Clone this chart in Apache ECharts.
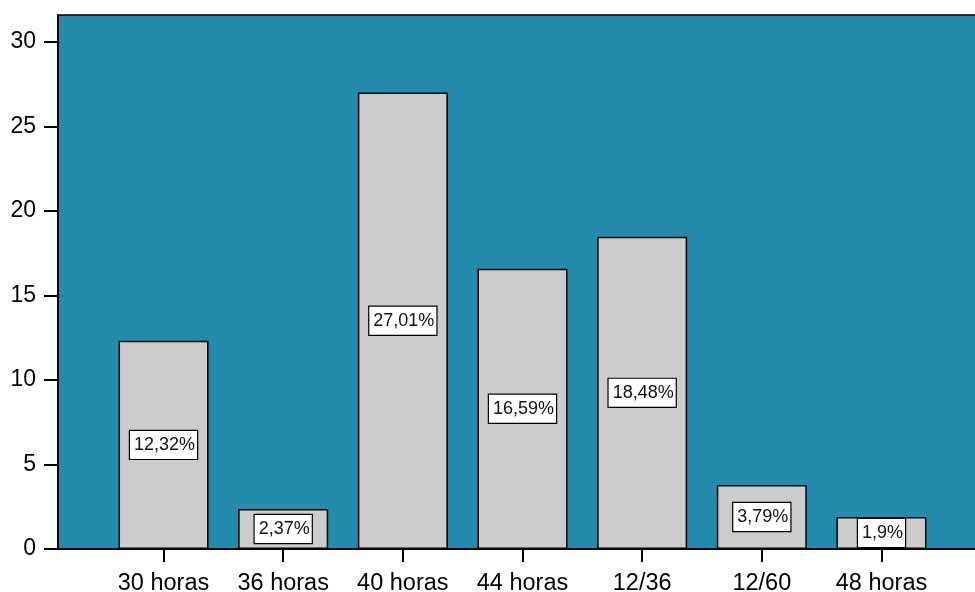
<!DOCTYPE html>
<html>
<head>
<meta charset="utf-8">
<script src="https://cdn.jsdelivr.net/npm/echarts@6/dist/echarts.min.js"></script>
<style>html,body{margin:0;padding:0;background:#fff}#c{width:975px;height:592px}</style>
</head>
<body>
<div id="c"></div>
<script>
var categories = ['30 horas', '36 horas', '40 horas', '44 horas', '12/36', '12/60', '48 horas'];
var values = [12.32, 2.37, 27.01, 16.59, 18.48, 3.79, 1.9];
var yTicks = [0, 5, 10, 15, 20, 25, 30];

var FONT = '"Liberation Sans", Arial, sans-serif';
var chart = echarts.init(document.getElementById('c'), null, {renderer: 'canvas'});
chart.setOption({
  animation: false,
  backgroundColor: '#ffffff',
  grid: [
    {left: 58, right: 0, top: 15, bottom: 43, show: true, backgroundColor: '#248bad', borderWidth: 0,
     containLabel: false, outerBoundsMode: 'none'},
    {left: 103.7, right: 33.7, top: 42, bottom: 43, containLabel: false, outerBoundsMode: 'none'}
  ],
  xAxis: [
    {gridIndex: 0, type: 'value', min: 0, max: 1, position: 'bottom',
     axisLine: {show: true, lineStyle: {color: '#000', width: 2}},
     axisTick: {show: false}, axisLabel: {show: false}, splitLine: {show: false}},
    {gridIndex: 0, type: 'value', min: 0, max: 1, position: 'top',
     axisLine: {show: true, lineStyle: {color: '#000', width: 1.5}},
     axisTick: {show: false}, axisLabel: {show: false}, splitLine: {show: false}},
    {gridIndex: 1, type: 'category', data: categories, position: 'bottom',
     axisLine: {show: false},
     axisTick: {show: true, alignWithLabel: true, length: 13, lineStyle: {color: '#000', width: 2}},
     axisLabel: {fontSize: 23.5, color: '#000', fontFamily: FONT, margin: 23, interval: 0}}
  ],
  yAxis: [
    {gridIndex: 0, type: 'value', min: 0, max: 1,
     axisLine: {show: true, lineStyle: {color: '#000', width: 2}},
     axisTick: {show: false}, axisLabel: {show: false}, splitLine: {show: false}},
    {gridIndex: 1, type: 'value', min: yTicks[0], max: yTicks[yTicks.length - 1], interval: 5,
     offset: 45.7,
     axisLine: {show: false},
     axisTick: {show: true, length: 14, lineStyle: {color: '#000', width: 2}},
     axisLabel: {fontSize: 23, color: '#000', fontFamily: FONT, margin: 22},
     splitLine: {show: false}}
  ],
  series: [{
    type: 'bar',
    xAxisIndex: 2,
    yAxisIndex: 1,
    data: values,
    barWidth: 90,
    itemStyle: {color: '#cccccc', borderColor: '#000', borderWidth: 1.5},
    label: {
      show: true,
      position: 'inside',
      formatter: function (p) { return String(p.value).replace('.', ',') + '%'; },
      fontSize: 18,
      lineHeight: 18,
      fontFamily: FONT,
      color: '#111',
      backgroundColor: '#ffffff',
      borderColor: '#000',
      borderWidth: 1.2,
      padding: [5, 2, 5, 4]
    }
  }]
});
</script>
</body>
</html>
